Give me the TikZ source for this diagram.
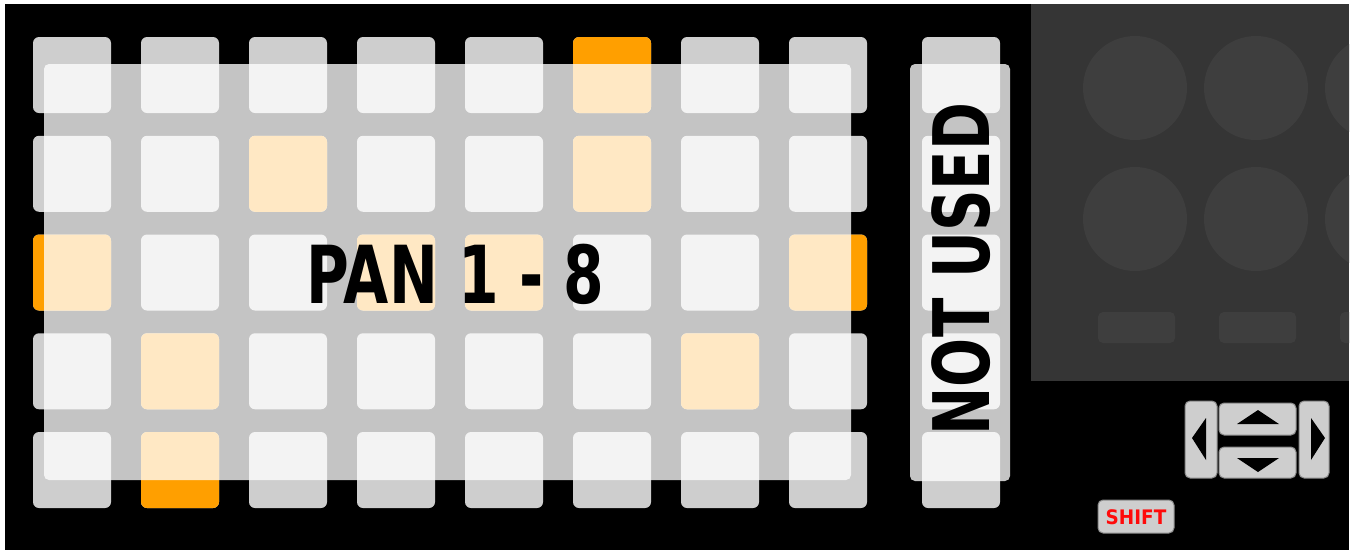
\documentclass[tikz,border=0pt]{standalone}
\usepackage{graphicx}
\usepackage{fontspec}
\setmainfont{DejaVu Sans}
\definecolor{padgray}{HTML}{CECECE}
\definecolor{padorange}{HTML}{FF9F00}
\definecolor{panelgray}{HTML}{353535}
\definecolor{knobgray}{HTML}{3E3E3E}
\definecolor{btnborder}{HTML}{8A8A8A}
\definecolor{shiftred}{HTML}{FF0A0A}
\begin{document}
\begin{tikzpicture}[x=1pt,y=-1pt,
  pad/.style={fill=padgray, rounded corners=6pt},
  orangepad/.style={fill=padorange, rounded corners=6pt},
  veil/.style={fill=white, fill opacity=0.77, rounded corners=5pt},
  knob/.style={fill=knobgray},
  btn/.style={fill=padgray, draw=btnborder, line width=1pt, rounded corners=5pt},
  bigtext/.style={inner sep=0pt, text=black, font=\bfseries\fontsize{80}{90}\selectfont},
  vtext/.style={inner sep=0pt, text=black, rotate=90, font=\bfseries\fontsize{78}{88}\selectfont}]
\useasboundingbox (0,0) rectangle (1350,550);
\fill[white] (0,0) rectangle (1350,550);
\fill[black] (5,4) rectangle (1349,550);
% pad grid
\foreach \c in {0,...,7}
  \foreach \r in {0,...,4}
    \fill[pad] ({33+108*\c},{37+98.75*\r}) rectangle ++(78,76);
\foreach \c/\r in {5/0,2/1,5/1,0/2,3/2,4/2,7/2,1/3,6/3,1/4}
  \fill[orangepad] ({33+108*\c},{37+98.75*\r}) rectangle ++(78,76);
% side column
\foreach \r in {0,...,4}
  \fill[pad] (922,{37+98.75*\r}) rectangle ++(78,76);
% veils
\fill[veil] (44,64) rectangle (851,480);
\fill[veil] (910,64) rectangle (1010,481);
\node[bigtext] (pan) at (455.5,274) {\scalebox{0.73}[1]{PAN 1 - 8}};
\node[vtext] (notused) at (961.5,269) {\scalebox{0.74}[1]{NOT USED}};
% right panel
\begin{scope}
  \clip (1031,4) rectangle (1349,381);
  \fill[panelgray] (1031,4) rectangle (1349,381);
  \foreach \x in {1135,1256,1377}
    \foreach \y in {88,219}
      \fill[knob] (\x,\y) circle (52);
  \foreach \x in {1098,1219,1340}
    \fill[knob, rounded corners=5pt] (\x,312) rectangle ++(77,31);
\end{scope}
% navigation buttons
\draw[btn] (1185,401) rectangle (1217,478);
\draw[btn] (1219,403) rectangle (1296,435);
\draw[btn] (1219,447) rectangle (1296,478);
\draw[btn] (1299,401) rectangle (1329,478);
\fill[black] (1192,438) -- (1206,418) -- (1206,460) -- cycle;
\fill[black] (1258,410) -- (1279,424) -- (1237,424) -- cycle;
\fill[black] (1258,472) -- (1279,458) -- (1237,458) -- cycle;
\fill[black] (1325,438) -- (1311,418) -- (1311,460) -- cycle;
% shift
\draw[btn] (1098,500) rectangle (1174,533);
\node[inner sep=0pt, text=shiftred, font=\bfseries\fontsize{20}{22}\selectfont] (shift) at (1136,517) {\scalebox{0.92}[1]{SHIFT}};
\end{tikzpicture}
\end{document}
